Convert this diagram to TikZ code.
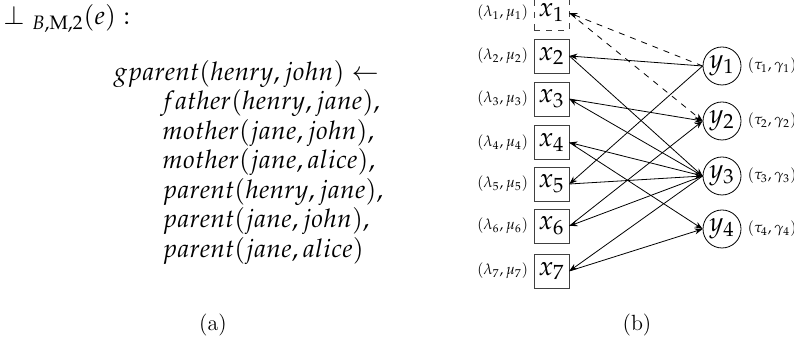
\documentclass[tikz,border=0pt]{standalone}
\usepackage{amsmath,amssymb}
\usepackage{mathpazo}
\usetikzlibrary{arrows.meta,positioning}
\newdimen\unitsize
\setlength{\unitsize}{0.5pt}

\begin{document}
\begin{tikzpicture}[x=\unitsize,y=-\unitsize,>={Stealth[length=4pt,width=3pt]}]
\tikzset{rule/.style={anchor=base west, inner sep=0pt, font=\fontsize{12.8}{15}\selectfont}}%
\tikzset{lit/.style={draw=black!75, minimum width=17.5pt, minimum height=17pt, inner sep=0pt, font=\fontsize{13.5}{16}\selectfont}}%
\tikzset{term/.style={draw, circle, minimum size=19pt, inner sep=0pt, font=\fontsize{13.5}{16}\selectfont}}%
\tikzset{weight/.style={inner sep=0pt, font=\fontsize{7.5}{9}\selectfont}}%
\tikzset{edge/.style={->}}%
\useasboundingbox (0,0) rectangle (794,341);
% (a)
\node[rule] (head) at (3,25) {$\bot\;{}_{B,\mathrm{M},2}(e):$};
\node[rule] (r0) at (113,81) {$gparent(henry, john) \leftarrow$};
\node[rule] (r1) at (160,110) {$father(henry, jane),$};
\node[rule] (r2) at (162,139.5) {$mother(jane, john),$};
\node[rule] (r3) at (162,169) {$mother(jane, alice),$};
\node[rule] (r4) at (162,198.5) {$parent(henry, jane),$};
\node[rule] (r5) at (162,228) {$parent(jane, john),$};
\node[rule] (r6) at (162,257.5) {$parent(jane, alice)$};
\node[font=\fontsize{11}{13}\selectfont] (capa) at (213,325) {(a)};
% (b)
\node[lit, dashed] (x1) at (551.5,13) {$x_1$};
\node[lit] (x2) at (551.5,56) {$x_2$};
\node[lit] (x3) at (551.5,99) {$x_3$};
\node[lit] (x4) at (551.5,142.5) {$x_4$};
\node[lit] (x5) at (551.5,184) {$x_5$};
\node[lit] (x6) at (551.5,226) {$x_6$};
\node[lit] (x7) at (551.5,271) {$x_7$};
\node[term] (y1) at (722,66) {$y_1$};
\node[term] (y2) at (722,121) {$y_2$};
\node[term] (y3) at (722,176) {$y_3$};
\node[term] (y4) at (722,229) {$y_4$};
\node[weight, left=2.5pt of x1] (w1) {$(\lambda_1,\mu_1)$};
\node[weight, left=2.5pt of x2] (w2) {$(\lambda_2,\mu_2)$};
\node[weight, left=2.5pt of x3] (w3) {$(\lambda_3,\mu_3)$};
\node[weight, left=2.5pt of x4] (w4) {$(\lambda_4,\mu_4)$};
\node[weight, left=2.5pt of x5] (w5) {$(\lambda_5,\mu_5)$};
\node[weight, left=2.5pt of x6] (w6) {$(\lambda_6,\mu_6)$};
\node[weight, left=2.5pt of x7] (w7) {$(\lambda_7,\mu_7)$};
\node[weight, right=3pt of y1] (v1) {$(\tau_1,\gamma_1)$};
\node[weight, right=3pt of y2] (v2) {$(\tau_2,\gamma_2)$};
\node[weight, right=3pt of y3] (v3) {$(\tau_3,\gamma_3)$};
\node[weight, right=3pt of y4] (v4) {$(\tau_4,\gamma_4)$};
\draw[edge, dashed] (y1.west) -- (x1.east);
\draw[edge, dashed] (x1.east) -- (y2.west);
\draw[edge] (y1.west) -- (x2.east);
\draw[edge] (y1.west) -- (x5.east);
\draw[edge] (x2.east) -- (y3.west);
\draw[edge] (y3.west) -- (x3.east);
\draw[edge] (x3.east) -- (y2.west);
\draw[edge] (y3.west) -- (x4.east);
\draw[edge] (x4.east) -- (y4.west);
\draw[edge] (x5.east) -- (y3.west);
\draw[edge] (y3.west) -- (x6.east);
\draw[edge] (x6.east) -- (y2.west);
\draw[edge] (y3.west) -- (x7.east);
\draw[edge] (x7.east) -- (y4.west);
\node[font=\fontsize{11}{13}\selectfont] (capb) at (637,325) {(b)};
\end{tikzpicture}
\end{document}
